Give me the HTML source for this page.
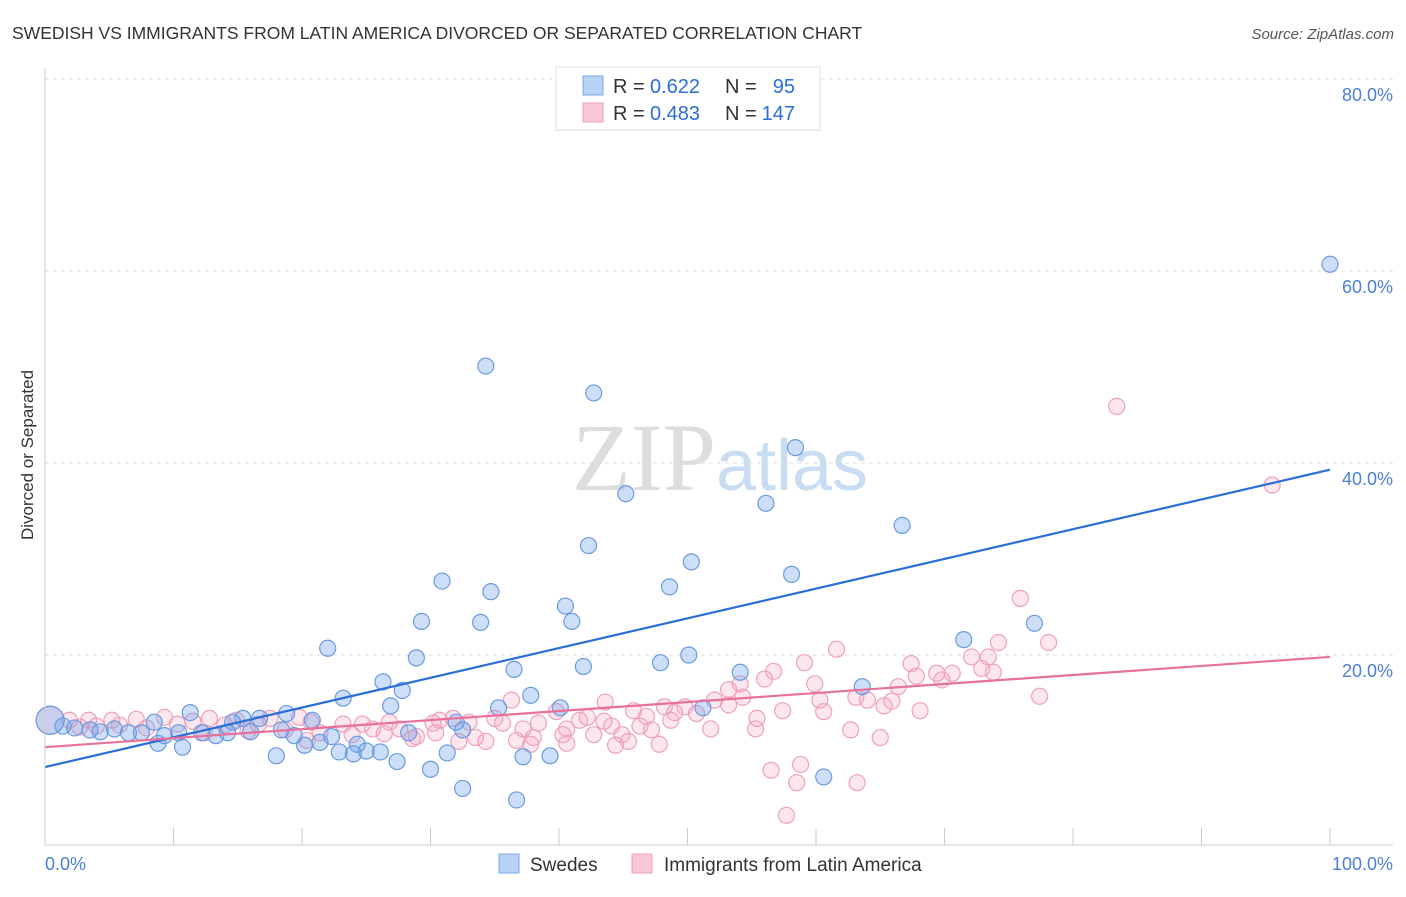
<!DOCTYPE html>
<html><head><meta charset="utf-8"><style>
body{margin:0;background:#fff;font-family:"Liberation Sans",sans-serif;}
svg text{font-family:"Liberation Sans",sans-serif;}
</style></head><body>
<svg id="chart" width="1406" height="892" xmlns="http://www.w3.org/2000/svg">
<text x="12" y="39" font-size="17.5" fill="#333">SWEDISH VS IMMIGRANTS FROM LATIN AMERICA DIVORCED OR SEPARATED CORRELATION CHART</text>
<text x="1394" y="39" font-size="15" fill="#555" text-anchor="end" font-style="italic">Source: ZipAtlas.com</text>
<text x="720" y="490" font-size="96" text-anchor="middle"><tspan fill="#ddd" font-family="Liberation Serif">ZIP</tspan><tspan fill="#c8dcf2" font-size="72">atlas</tspan></text>
<text transform="translate(33,455) rotate(-90)" font-size="17" fill="#333" text-anchor="middle">Divorced or Separated</text>
<g id="grid"></g><g id="pts"></g><g id="lines"></g>
<line x1="45" y1="68" x2="45" y2="845" stroke="#ccc"/>
<line x1="45" y1="845" x2="1393" y2="845" stroke="#ccc"/>
<text x="45" y="870" font-size="18" fill="#4a7fd6">0.0%</text>
<text x="1393" y="870" font-size="18" fill="#4a7fd6" text-anchor="end">100.0%</text>
<g>
<rect x="556" y="67" width="264" height="63" fill="#fff" stroke="#ddd"/>
<rect x="583" y="76" width="20" height="19" fill="#b8d2f6" stroke="#7aa8e8"/>
<rect x="583" y="103" width="20" height="19" fill="#f9c8d6" stroke="#f0a0b8"/>
<text x="613" y="93" font-size="20" fill="#333">R =</text>
<text x="650" y="93" font-size="20" fill="#2a6fd6">0.622</text>
<text x="725" y="93" font-size="20" fill="#333">N =</text>
<text x="795" y="93" font-size="20" fill="#2a6fd6" text-anchor="end">95</text>
<text x="613" y="120" font-size="20" fill="#333">R =</text>
<text x="650" y="120" font-size="20" fill="#2a6fd6">0.483</text>
<text x="725" y="120" font-size="20" fill="#333">N =</text>
<text x="795" y="120" font-size="20" fill="#2a6fd6" text-anchor="end">147</text>
</g>
<g>
<rect x="499" y="854" width="20" height="19" fill="#b8d2f6" stroke="#7aa8e8"/>
<text x="530" y="871" font-size="19" fill="#333">Swedes</text>
<rect x="632" y="854" width="20" height="19" fill="#f9c8d6" stroke="#f0a0b8"/>
<text x="664" y="871" font-size="19" fill="#333">Immigrants from Latin America</text>
</g>
</svg>
<script>
const yTicks=[20,40,60,80];
const yTickLabels=["20.0%","40.0%","60.0%","80.0%"];
const xTicks=[0,10,20,30,40,50,60,70,80,90,100];
const blueX=[100,34.3,42.7,58.4,45.2,56.1,66.7,42.3,50.3,58.1,30.9,48.6,34.7,40.5,29.3,33.9,41,77,71.5,22,50.1,28.9,47.9,41.9,36.5,54.1,26.3,27.8,63.6,23.2,37.8,26.9,35.3,40.1,51.2,11.3,18.8,15.4,20.8,16.7,14.6,32,8.5,0.4,1.4,2.3,3.5,4.3,5.4,6.5,7.5,9.3,10.4,12.2,13.3,14.2,16,18.4,32.5,28.3,19.4,8.8,10.7,20.2,21.4,22.3,24.3,22.9,24,25,26.1,18,31.3,27.4,30,37.2,39.3,32.5,36.7,60.6];
const blueY=[60.7,50.1,47.3,41.6,36.8,35.8,33.5,31.4,29.7,28.4,27.7,27.1,26.6,25.1,23.5,23.4,23.5,23.3,21.6,20.7,20,19.7,19.2,18.8,18.5,18.2,17.2,16.3,16.7,15.5,15.8,14.7,14.5,14.5,14.5,14,13.9,13.4,13.2,13.4,13,13,13,13.2,12.6,12.4,12.2,12,12.3,11.9,11.9,11.6,11.9,11.9,11.6,11.9,12,12.2,12.2,11.9,11.6,10.8,10.4,10.6,10.9,11.5,10.7,9.9,9.7,10,9.9,9.5,9.8,8.9,8.1,9.4,9.5,6.1,4.9,7.3];
const pinkX=[83.4,95.5,75.9,78.1,74.2,61.6,72.1,73.4,67.4,59.1,56.7,69.4,70.6,72.9,73.8,67.8,69.8,56,54.1,59.9,53.2,66.4,77.4,63.1,64,54.3,52.1,60.3,65.9,65.3,43.6,36.3,48.2,49.8,53.2,68.1,57.4,60.6,45.8,49,50.7,31.75,39.8,55.4,46.8,42.2,35,30.7,48.7,43.5,30.2,41.6,38.4,35.6,33,26.8,24.7,23.2,20.7,17.5,19.8,12.8,9.3,7.1,5.2,3.4,1.9,0.4,11.5,14.9,16.6,7.9,14,10.3,5.8,4,2.7,25.5,27.6,37.2,40.6,44.1,46.3,51.8,47.2,44.9,40.3,38,33.5,28.9,23.9,21.4,18.7,15.8,12.4,55.3,62.7,42.7,30.4,26.4,34.3,32.2,28.6,40.6,45.4,36.7,65,44.4,47.8,37.8,20.4,56.5,58.8,58.5,63.2,57.7];
const pinkY=[45.9,37.7,25.9,21.3,21.3,20.6,19.8,19.8,19.1,19.2,18.3,18.1,18.1,18.6,18.2,17.8,17.4,17.5,17,17,16.4,16.7,15.7,15.6,15.3,15.6,15.3,15.3,15.2,14.7,15.1,15.3,14.6,14.6,14.8,14.2,14.2,14.1,14.2,14,13.9,13.4,14.1,13.4,13.6,13.5,13.4,13.2,13.2,13.1,12.9,13.2,12.9,12.9,13,13,12.8,12.8,13,13.4,13.5,13.4,13.5,13.3,13.2,13.2,13.2,13.2,13.1,13.2,12.8,12.4,12.7,12.8,12.7,12.6,12.5,12.3,12.3,12.3,12.3,12.6,12.6,12.3,12.2,11.7,11.7,11.4,11.4,11.5,11.7,11.9,12.2,12.1,11.9,12.3,12.2,11.7,11.9,11.8,11,11,11.3,10.8,11,11.1,11.4,10.6,10.7,10.7,11.1,8,8.6,6.7,6.7,3.3];
const blueLine=[8.33,39.3];
const pinkLine=[10.4,19.8];
const NS="http://www.w3.org/2000/svg";
const X=v=>45+v*12.85, Y=v=>847-v*9.6;
function mk(t,a,p){const e=document.createElementNS(NS,t);for(const k in a)e.setAttribute(k,a[k]);document.getElementById(p).appendChild(e);return e;}
yTicks.forEach((t,i)=>{
 const g=mk('line',{x1:45,x2:1393,y1:Y(t),y2:Y(t),stroke:'#ddd','stroke-dasharray':'4,4'},'grid');
 
 
 const l=mk('text',{x:1393,y:Y(t)+22,'font-size':18,fill:'#4a7fd6','text-anchor':'end'},'grid');
 
 
 l.textContent=yTickLabels[i];
});
xTicks.forEach(t=>{
 const k=mk('line',{x1:X(t),x2:X(t),y1:828,y2:845,stroke:'#ccc'},'grid');
 
 
});
function pts(xs,ys,fill,stroke,name){
 xs.forEach((x,i)=>{
  const c=mk('circle',{cx:X(x),cy:Y(ys[i]),r:(x<1?14:8),fill:fill,stroke:stroke,'stroke-width':1.2},'pts');
  
  
 });
}
pts(pinkX,pinkY,'rgba(245,160,190,0.25)','#f0a0b8','latin-america-point');
pts(blueX,blueY,'rgba(110,160,235,0.35)','#6a9be0','swedes-point');
const bl=mk('line',{x1:X(0),y1:Y(blueLine[0]),x2:X(100),y2:Y(blueLine[1]),stroke:'#2a6fd6','stroke-width':2.2},'lines');


const pl=mk('line',{x1:X(0),y1:Y(pinkLine[0]),x2:X(100),y2:Y(pinkLine[1]),stroke:'#e8719a','stroke-width':2.2},'lines');


</script>
</body></html>
